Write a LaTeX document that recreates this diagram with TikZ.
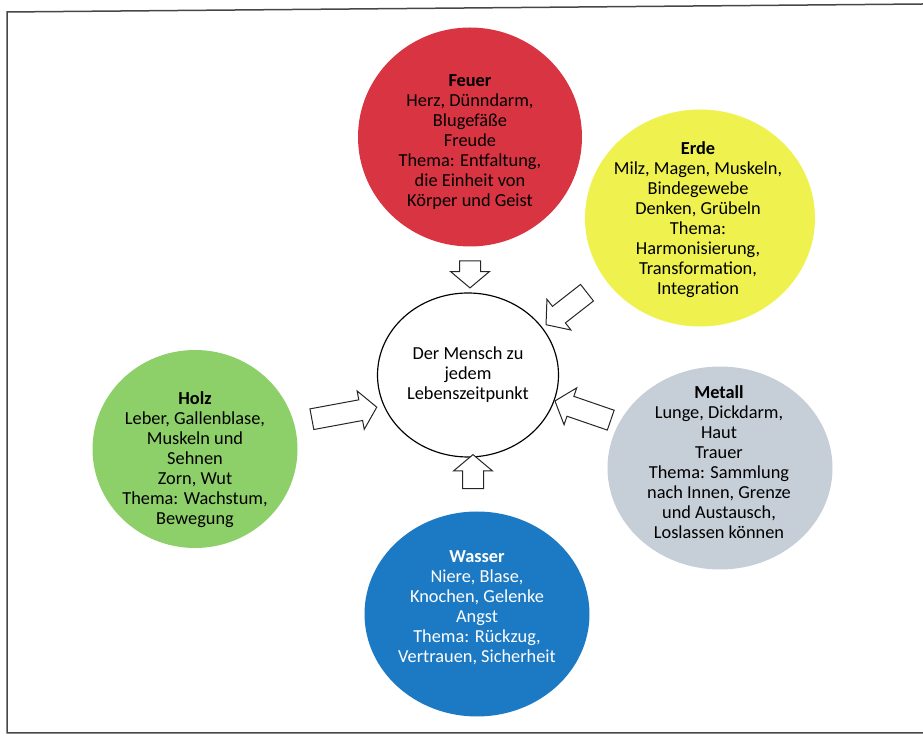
\documentclass[tikz,border=0pt]{standalone}
\usepackage{fontspec}
\setmainfont{Carlito}
\usepackage{tikz}
\usetikzlibrary{shapes.geometric,shapes.arrows,positioning}
\definecolor{feuerRed}{RGB}{217,52,66}
\definecolor{erdeYellow}{RGB}{238,241,78}
\definecolor{holzGreen}{RGB}{141,207,104}
\definecolor{metallGrey}{RGB}{198,206,216}
\definecolor{wasserBlue}{RGB}{28,122,196}
\definecolor{frameGrey}{RGB}{70,70,70}

\begin{document}
\begin{tikzpicture}[x=0.6pt, y=-0.6pt,
    element/.style={ellipse, inner sep=0pt},
    txt/.style={align=center, font=\fontsize{11}{12}\selectfont},
    fatarrow/.style={single arrow, draw=black!85, fill=white, line width=0.6pt,
      inner sep=0pt, inner ysep=6pt, text height=0pt, text depth=0pt,
      single arrow head extend=5.4pt, single arrow tip angle=100}]
    \useasboundingbox (0,0) rectangle (923,736);

    % Frame of the scanned page
    \draw[frameGrey, line width=0.9pt] (923,4) -- (7,12) -- (7,733) -- (923,733);

    % Centre
    \node[element, draw, line width=0.7pt, minimum width=108.6pt, minimum height=98.4pt] (mensch) at (468,375) {};
    \node[txt] (mensch-txt) at (468,375) {Der Mensch zu\\jedem\\Lebenszeitpunkt};

    % Feuer
    \node[element, fill=feuerRed, minimum width=134.4pt, minimum height=131.4pt] (feuer) at (470,137) {};
    \node[txt] (feuer-txt) at (470,142) {\textbf{Feuer}\\Herz, Dünndarm,\\Blugefäße\\Freude\\Thema: Entfaltung,\\die Einheit von\\Körper und Geist};

    % Erde
    \node[element, fill=erdeYellow, minimum width=138pt, minimum height=130.2pt] (erde) at (700,218) {};
    \node[txt] (erde-txt) at (698,220) {\textbf{Erde}\\Milz, Magen, Muskeln,\\Bindegewebe\\Denken, Grübeln\\Thema:\\Harmonisierung,\\Transformation,\\Integration};

    % Holz
    \node[element, fill=holzGreen, minimum width=123pt, minimum height=118.8pt] (holz) at (195,449) {};
    \node[txt] (holz-txt) at (195,460) {\textbf{Holz}\\Leber, Gallenblase,\\Muskeln und\\Sehnen\\Zorn, Wut\\Thema: Wachstum,\\Bewegung};

    % Metall
    \node[element, fill=metallGrey, minimum width=135pt, minimum height=121.8pt] (metall) at (720,468) {};
    \node[txt] (metall-txt) at (719,462) {\textbf{Metall}\\Lunge, Dickdarm,\\Haut\\Trauer\\Thema: Sammlung\\nach Innen, Grenze\\und Austausch,\\Loslassen können};

    % Wasser
    \node[element, fill=wasserBlue, minimum width=135pt, minimum height=123pt] (wasser) at (477,614) {};
    \node[txt, white] (wasser-txt) at (477,608) {\textbf{Wasser}\\Niere, Blase,\\Knochen, Gelenke\\Angst\\Thema: Rückzug,\\Vertrauen, Sicherheit};

    % Block arrows towards the centre
    \node[fatarrow, minimum height=16.2pt, rotate=-90] (a-feuer) at (470,270) {};
    \node[fatarrow, minimum height=31.2pt, rotate=218] (a-erde) at (570,306) {};
    \node[fatarrow, minimum height=39.6pt, rotate=10.5] (a-holz) at (340,414) {};
    \node[fatarrow, minimum height=35.4pt, rotate=161] (a-metall) at (587,412) {};
    \node[fatarrow, minimum height=20.4pt, rotate=90] (a-wasser) at (473,476) {};
\end{tikzpicture}
\end{document}
